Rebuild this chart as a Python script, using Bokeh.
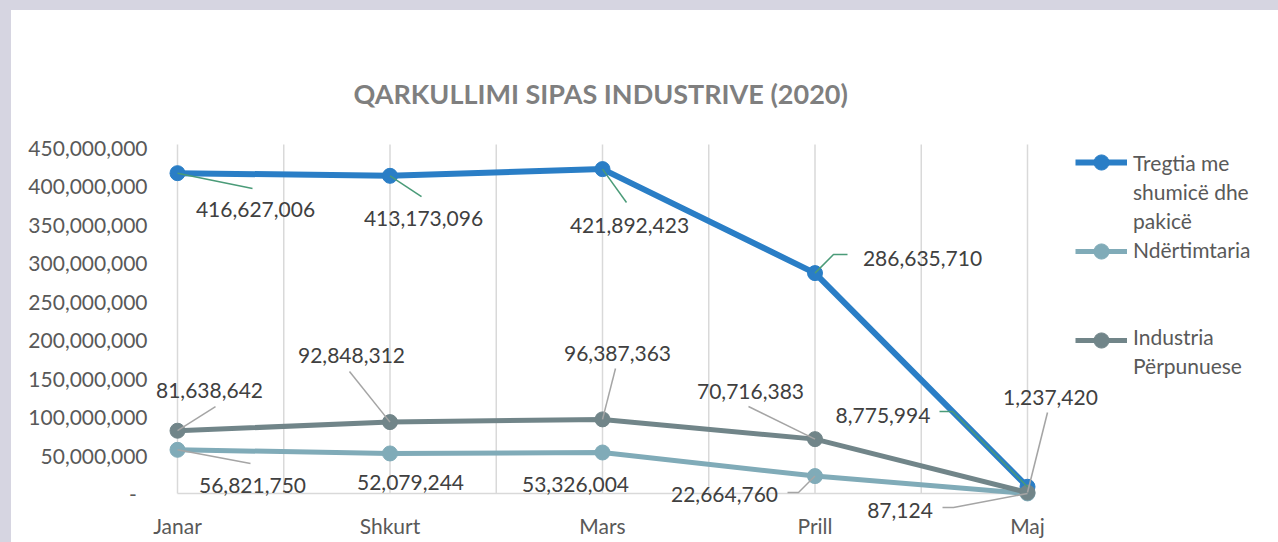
from bokeh.plotting import figure
from bokeh.models import Range1d, FixedTicker, Legend, LegendItem
from bokeh.core.properties import value
from bokeh.embed import file_html
from bokeh.resources import INLINE

# ---------------- data ----------------
months = ["Janar", "Shkurt", "Mars", "Prill", "Maj"]
tregtia = [416627006, 413173096, 421892423, 286635710, 8775994]
ndertimtaria = [56821750, 52079244, 53326004, 22664760, 87124]
industria = [81638642, 92848312, 96387363, 70716383, 1237420]
y_ticks = [0, 50000000, 100000000, 150000000, 200000000, 250000000,
           300000000, 350000000, 400000000, 450000000]
title_text = "QARKULLIMI SIPAS INDUSTRIVE (2020)"
legend_lines = ["Tregtia me", "shumicë dhe", "pakicë", "Ndërtimtaria", " ", " ",
                "Industria", "Përpunuese"]

# ---------------- layout / style ----------------
W, H = 1267, 532               # figure placed at page (11, 10)
BL, BR, BT, BB = 139, 0, 130, 21
FW, FH = W - BL - BR, H - BT - BB
PXX = 212.5                    # px per category step
PXY = 346 / 450e6              # px per unit value
X0 = -27 / PXX
X1 = X0 + FW / PXX
Y0 = -28 / PXY
Y1 = Y0 + FH / PXY
GRID_TOP = 454e6

BLUE = "#2a7ec6"
TEAL = "#80abb8"
GRAY = "#718589"
GREEN_LEAD = "#4a9b78"
GRAY_LEAD = "#a5a5a5"
FONT = "Lato"

# label offsets (pixels, y down) and leader waypoints (pixels, y down)
t_lab = [(78, 36), (33.5, 43), (27, 56.4), (107.5, -15.1), (-144.5, -71.3)]
t_lead = [[(0, 0), (75, 15.3)], [(0, 0), (31.5, 20.7)], [(0, 0), (24, 33.4)],
          [(0, 0), (18.5, -18.6), (32.5, -18.6)], [(0, 0), (-75, -75.3), (-88, -75.3)]]
i_lab = [(32, -40.7), (-38.5, -67.1), (15, -65.9), (-64.5, -48.1), (23, -95.5)]
i_lead = [[(0, 0), (38, -24.2)], [(0, 0), (-40.5, -50.6)], [(0, 0), (13, -50.9)],
          [(0, 0), (-66.5, -32.6)], [(0, 0), (20, -80)]]
n_lab = [(75, 35.2), (20.5, 29.5), (-27, 32.5), (-90.5, 18.9), (-127.5, 16.6)]
n_lead = [[(0, 0), (73, 13.7)], None, None,
          [(0, 0), (-16.5, 16.4), (-27.5, 16.4)], [(0, 0), (-74, 14.1), (-85, 14.1)]]

p = figure(width=W, height=H, output_backend="svg", toolbar_location=None,
           x_range=Range1d(X0, X1), y_range=Range1d(Y0, Y1),
           min_border_left=BL, min_border_right=BR, min_border_top=BT,
           min_border_bottom=BB, background_fill_color="white",
           border_fill_color="white", outline_line_color=None)
p.styles = {"background-color": "white"}
p.xgrid.visible = False
p.ygrid.visible = False

# title
p.title.text = title_text
p.title.align = "left"
p.title.offset = 203
p.title.text_font = FONT
p.title.text_font_style = "bold"
p.title.text_font_size = "27px"
p.title.text_color = "#7f7f7f"
p.title.standoff = 62

# axes
xi = list(range(len(months)))
p.xaxis.ticker = FixedTicker(ticks=xi)
p.xaxis.major_label_overrides = {i: m for i, m in enumerate(months)}
p.yaxis.ticker = FixedTicker(ticks=y_ticks)
ov = {t: f"{t:,}" for t in y_ticks}
ov[0] = "-\u00a0\u00a0"
p.yaxis.major_label_overrides = ov
for ax in (p.xaxis[0], p.yaxis[0]):
    ax.axis_line_color = None
    ax.major_tick_line_color = None
    ax.minor_tick_line_color = None
    ax.major_tick_out = 0
    ax.major_tick_in = 0
    ax.major_label_text_font = FONT
    ax.major_label_text_font_size = "21px"
    ax.major_label_text_color = "#595959"
p.xaxis.major_label_standoff = -9
p.yaxis.major_label_standoff = 3

# vertical gridlines and baseline
gx = [i * 0.5 for i in range(2 * len(months) - 1)]
p.segment(x0=gx, y0=[0] * len(gx), x1=gx, y1=[GRID_TOP] * len(gx),
          line_color="#d9d9d9", line_width=1.5)
p.segment(x0=[xi[0]], y0=[0], x1=[xi[-1]], y1=[0], line_color="#d9d9d9", line_width=1.5)

# series
rend = []
for vals, col, lw in ((tregtia, BLUE, 6), (ndertimtaria, TEAL, 5), (industria, GRAY, 5)):
    lr = p.line(xi, vals, line_color=col, line_width=lw)
    sr = p.scatter(xi, vals, size=15, fill_color=col, line_color=col, marker="circle")
    rend.append((lr, sr))

# leader lines
for vals, leads, col in ((tregtia, t_lead, GREEN_LEAD), (ndertimtaria, n_lead, GRAY_LEAD),
                         (industria, i_lead, GRAY_LEAD)):
    xs, ys = [], []
    for k, ld in enumerate(leads):
        if ld is None:
            continue
        xs.append([xi[k] + dx / PXX for dx, dy in ld])
        ys.append([vals[k] - dy / PXY for dx, dy in ld])
    p.multi_line(xs, ys, line_color=col, line_width=1.5)

# data labels
for vals, labs in ((tregtia, t_lab), (ndertimtaria, n_lab), (industria, i_lab)):
    p.text(x=xi, y=vals, text=[f"{v:,}" for v in vals],
           x_offset=[a for a, b in labs], y_offset=[b for a, b in labs],
           text_align="center", text_baseline="middle",
           text_font=value(FONT), text_font_size="21px", text_color="#404040")

# legends (glyphs and wrapped texts)
dummy = p.line([0], [0], line_alpha=0)
leg_g = Legend(items=[LegendItem(label=" ", renderers=[lr, sr]) for lr, sr in rend],
               location=(925, 162), glyph_width=52, glyph_height=38, label_height=38,
               spacing=51, padding=0, margin=0, border_line_color=None,
               background_fill_alpha=0, label_text_font_size="1px", label_standoff=0)
leg_t = Legend(items=[LegendItem(label=t, renderers=[dummy]) for t in legend_lines],
               location=(925, 143), glyph_width=52, glyph_height=25, label_height=25,
               spacing=4, padding=0, margin=0, border_line_color=None,
               background_fill_alpha=0, label_standoff=6,
               label_text_font=FONT, label_text_font_size="21px",
               label_text_color="#595959")
p.add_layout(leg_g)
p.add_layout(leg_t)

html = file_html(p, INLINE)
html = html.replace("</head>", "<style>html,body{background:#d6d5e1 !important;}"
                    "body{padding:10px 0 0 11px !important;}</style></head>", 1)
open("out.html", "w").write(html)
